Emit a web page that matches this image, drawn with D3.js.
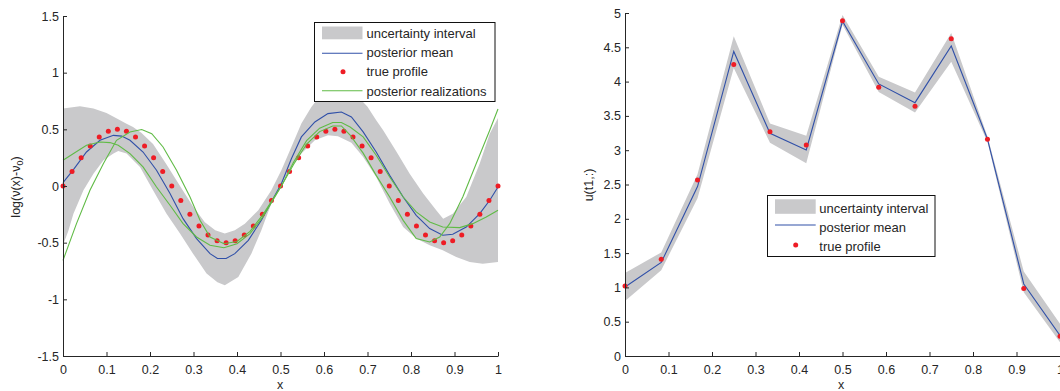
<!DOCTYPE html>
<html><head><meta charset="utf-8">
<script src="https://cdn.jsdelivr.net/npm/d3@7"></script>
<style>
body{margin:0;background:#fff}
svg{display:block}
text{font-family:"Liberation Sans",Arial,sans-serif;fill:#262626}
</style>
</head><body><svg id="c" width="1060" height="391"></svg>
<script>
// ---------- LEFT PANEL DATA ----------
const xTickVals = [0,0.1,0.2,0.3,0.4,0.5,0.6,0.7,0.8,0.9,1];
const xTickLabels = ["0","0.1","0.2","0.3","0.4","0.5","0.6","0.7","0.8","0.9","1"];
const leftYTickVals = [-1.5,-1,-0.5,0,0.5,1,1.5];
const leftYTickLabels = ["-1.5","-1","-0.5","0","0.5","1","1.5"];

const bandUpX = [0,0.039,0.07,0.1,0.127,0.146,0.161,0.18,0.207,0.238,0.269,0.299,0.326,0.35,0.372,0.395,0.418,0.449,0.479,0.502,0.525,0.548,0.571,0.586,0.61,0.635,0.66,0.68,0.70,0.72,0.736,0.767,0.797,0.828,0.858,0.874,0.896,0.927,0.958,0.981,1];
const bandUpY = [0.683,0.703,0.683,0.645,0.59,0.55,0.52,0.47,0.37,0.19,0.0,-0.18,-0.32,-0.39,-0.42,-0.39,-0.332,-0.214,-0.038,0.139,0.344,0.551,0.697,0.771,0.86,0.88,0.84,0.78,0.70,0.58,0.492,0.30,0.109,-0.067,-0.214,-0.288,-0.244,-0.097,0.198,0.462,0.6];
const bandLoX = [0,0.012,0.024,0.047,0.07,0.093,0.116,0.127,0.146,0.177,0.207,0.238,0.269,0.299,0.33,0.355,0.372,0.403,0.433,0.456,0.479,0.502,0.525,0.548,0.579,0.609,0.632,0.663,0.69,0.72,0.751,0.782,0.812,0.843,0.873,0.904,0.935,0.965,1];
const bandLoY = [-0.52,-0.40,-0.244,-0.038,0.109,0.227,0.286,0.309,0.286,0.168,-0.038,-0.244,-0.42,-0.597,-0.773,-0.85,-0.876,-0.803,-0.597,-0.391,-0.155,0.021,0.168,0.286,0.403,0.447,0.439,0.381,0.256,0.079,-0.155,-0.362,-0.464,-0.523,-0.567,-0.627,-0.671,-0.685,-0.671];

const meanX = [0,0.024,0.054,0.085,0.116,0.135,0.154,0.184,0.215,0.246,0.276,0.307,0.338,0.355,0.375,0.395,0.426,0.456,0.479,0.502,0.525,0.548,0.579,0.609,0.640,0.663,0.690,0.720,0.751,0.782,0.812,0.843,0.873,0.896,0.927,0.958,0.981,1.0];
const meanY = [0.03,0.145,0.30,0.403,0.447,0.44,0.403,0.30,0.139,-0.067,-0.288,-0.464,-0.597,-0.64,-0.64,-0.597,-0.479,-0.303,-0.14,0.02,0.24,0.433,0.565,0.639,0.653,0.609,0.477,0.30,0.094,-0.097,-0.259,-0.376,-0.435,-0.426,-0.362,-0.244,-0.126,-0.009];

const trueX = [0,0.0208,0.0417,0.0625,0.0833,0.1042,0.125,0.1458,0.1667,0.1875,0.2083,0.2292,0.25,0.2708,0.2917,0.3125,0.3333,0.3542,0.375,0.3958,0.4167,0.4375,0.4583,0.4792,0.5,0.5208,0.5417,0.5625,0.5833,0.6042,0.625,0.6458,0.6667,0.6875,0.7083,0.7292,0.75,0.7708,0.7917,0.8125,0.8333,0.8542,0.875,0.8958,0.9167,0.9375,0.9583,0.9792,1];
const trueY = [0,0.129,0.25,0.354,0.433,0.483,0.5,0.483,0.433,0.354,0.25,0.129,0,-0.129,-0.25,-0.354,-0.433,-0.483,-0.5,-0.483,-0.433,-0.354,-0.25,-0.129,0,0.129,0.25,0.354,0.433,0.483,0.5,0.483,0.433,0.354,0.25,0.129,0,-0.129,-0.25,-0.354,-0.433,-0.483,-0.5,-0.483,-0.433,-0.354,-0.25,-0.129,0];

const real1X = [0,0.054,0.085,0.108,0.127,0.154,0.184,0.215,0.246,0.276,0.307,0.338,0.37,0.40,0.43,0.46,0.502,0.53,0.56,0.59,0.62,0.64,0.66,0.69,0.72,0.751,0.782,0.812,0.843,0.873,0.912,0.942,0.973,1];
const real1Y = [0.227,0.359,0.388,0.383,0.359,0.286,0.168,-0.009,-0.17,-0.332,-0.45,-0.523,-0.545,-0.51,-0.42,-0.27,0.0,0.21,0.40,0.51,0.56,0.56,0.52,0.433,0.271,0.079,-0.097,-0.229,-0.318,-0.362,-0.367,-0.332,-0.274,-0.214];
const real2X = [0,0.031,0.062,0.093,0.123,0.154,0.181,0.204,0.23,0.261,0.292,0.315,0.338,0.37,0.40,0.43,0.46,0.502,0.53,0.56,0.59,0.62,0.64,0.66,0.69,0.72,0.751,0.782,0.812,0.843,0.866,0.889,0.919,0.95,0.981,1];
const real2Y = [-0.656,-0.332,-0.038,0.198,0.403,0.477,0.498,0.462,0.344,0.139,-0.097,-0.303,-0.45,-0.51,-0.49,-0.40,-0.25,0.0,0.19,0.37,0.48,0.53,0.53,0.45,0.29,0.094,-0.097,-0.303,-0.464,-0.494,-0.45,-0.332,-0.097,0.198,0.492,0.68];

const leftLegendLabels = ["uncertainty interval","posterior mean","true profile","posterior realizations"];

// ---------- RIGHT PANEL DATA ----------
const rightX = [0,0.0833,0.1667,0.25,0.3333,0.4167,0.5,0.5833,0.6667,0.75,0.8333,0.9167,1];
const rightTrue = [1.02,1.41,2.565,4.25,3.27,3.076,4.886,3.918,3.64,4.623,3.158,0.984,0.288];
const rightMean = [1.007,1.363,2.47,4.44,3.246,3.003,4.88,3.966,3.693,4.52,3.16,1.05,0.30];
const rightUpper = [1.21,1.51,2.65,4.66,3.39,3.21,4.97,4.07,3.84,4.71,3.2,1.23,0.47];
const rightLower = [0.80,1.25,2.30,4.2,3.11,2.81,4.83,3.85,3.55,4.29,3.12,0.93,0.2];
const rightYTickVals = [0,0.5,1,1.5,2,2.5,3,3.5,4,4.5,5];
const rightYTickLabels = ["0","0.5","1","1.5","2","2.5","3","3.5","4","4.5","5"];
const rightLegendLabels = ["uncertainty interval","posterior mean","true profile"];

// ---------- STYLE ----------
const GRAY = "#c9c9cb", BLUE = "#3050a8", RED = "#ee1c25", GREEN = "#60bb46", AX = "#262626";

const svg = d3.select("#c");

function drawAxes(g, x, y, yVals, yLabels, xLabelX) {
  const ax = g.append("g").attr("transform", `translate(0,${y.range()[0]})`)
    .call(d3.axisBottom(x).tickValues(xTickVals).tickFormat((d,i)=>xTickLabels[i])
      .tickSizeInner(-4).tickSizeOuter(0).tickPadding(9));
  const ay = g.append("g").attr("transform", `translate(${x.range()[0]},0)`)
    .call(d3.axisLeft(y).tickValues(yVals).tickFormat((d,i)=>yLabels[i])
      .tickSizeInner(-4).tickSizeOuter(0).tickPadding(4));
  [ax, ay].forEach(a => {
    a.selectAll("path.domain").attr("stroke", AX);
    a.selectAll("line").attr("stroke", AX);
    a.selectAll("text").attr("font-size", "12.5px").attr("fill", AX)
      .attr("font-family", '"Liberation Sans",Arial,sans-serif');
  });
  g.append("text").attr("x", xLabelX).attr("y", 389).attr("text-anchor","middle")
    .attr("font-size","12.5px").text("x");
}

// ---------- LEFT PANEL ----------
const xL = d3.scaleLinear().domain([0,1]).range([63,498]);
const yL = d3.scaleLinear().domain([-1.5,1.5]).range([356,16]);
const gL = svg.append("g");

const upPts = bandUpX.map((v,i)=>[xL(v), yL(bandUpY[i])]);
const loPts = bandLoX.map((v,i)=>[xL(v), yL(bandLoY[i])]).reverse();
gL.append("path").attr("d", d3.line()(upPts.concat(loPts)) + "Z").attr("fill", GRAY);

const lineL = d3.line().x(d=>xL(d[0])).y(d=>yL(d[1]));
gL.append("path").attr("d", lineL(meanX.map((v,i)=>[v,meanY[i]])))
  .attr("fill","none").attr("stroke",BLUE).attr("stroke-width",1.1);
gL.selectAll("circle.t").data(trueX.map((v,i)=>[v,trueY[i]])).join("circle")
  .attr("cx",d=>xL(d[0])).attr("cy",d=>yL(d[1])).attr("r",2.5).attr("fill",RED);
[[real1X,real1Y],[real2X,real2Y]].forEach(([xs,ys])=>{
  gL.append("path").attr("d", lineL(xs.map((v,i)=>[v,ys[i]])))
    .attr("fill","none").attr("stroke",GREEN).attr("stroke-width",1.1);
});

drawAxes(gL, xL, yL, leftYTickVals, leftYTickLabels, 280);
gL.append("text").attr("transform","translate(20,187) rotate(-90)").attr("text-anchor","middle")
  .attr("font-size","12.5px")
  .call(t=>{ t.append("tspan").text("log(ν(x)-ν");
             t.append("tspan").attr("font-size","9px").attr("dy",3).text("0");
             t.append("tspan").attr("dy",-3).text(")"); });

// left legend
const lgL = gL.append("g");
lgL.append("rect").attr("x",314.5).attr("y",22.5).attr("width",180.5).attr("height",79)
  .attr("fill","#fff").attr("stroke","#111").attr("stroke-width",1);
const lBase = [38,57.3,76.3,95.6];
leftLegendLabels.forEach((lab,i)=>{
  lgL.append("text").attr("x",366.5).attr("y",lBase[i]).attr("font-size","13px").text(lab);
});
lgL.append("rect").attr("x",322).attr("y",26.5).attr("width",40.5).attr("height",12.8).attr("fill",GRAY);
lgL.append("line").attr("x1",322).attr("x2",362.5).attr("y1",53.3).attr("y2",53.3).attr("stroke",BLUE).attr("stroke-width",1.1);
lgL.append("circle").attr("cx",343).attr("cy",71.8).attr("r",2.5).attr("fill",RED);
lgL.append("line").attr("x1",322).attr("x2",362.5).attr("y1",90.7).attr("y2",90.7).attr("stroke",GREEN).attr("stroke-width",1.1);

// ---------- RIGHT PANEL ----------
const xR = d3.scaleLinear().domain([0,1]).range([625,1060]);
const yR = d3.scaleLinear().domain([0,5]).range([356,13]);
const gR = svg.append("g");
gR.append("path").attr("d", d3.area().x((d,i)=>xR(rightX[i])).y0((d,i)=>yR(rightLower[i])).y1((d,i)=>yR(rightUpper[i]))(rightX))
  .attr("fill",GRAY);
gR.append("path").attr("d", d3.line().x((d,i)=>xR(rightX[i])).y((d,i)=>yR(rightMean[i]))(rightX))
  .attr("fill","none").attr("stroke",BLUE).attr("stroke-width",1.1);
gR.selectAll("circle.t").data(rightX.map((v,i)=>[v,rightTrue[i]])).join("circle")
  .attr("cx",d=>xR(d[0])).attr("cy",d=>yR(d[1])).attr("r",2.5).attr("fill",RED);

drawAxes(gR, xR, yR, rightYTickVals, rightYTickLabels, 841);
gR.append("text").attr("transform","translate(593,185) rotate(-90)").attr("text-anchor","middle")
  .attr("font-size","12.5px").text("u(t1,:)");

// right legend
const lgR = gR.append("g");
lgR.append("rect").attr("x",767.5).attr("y",195.5).attr("width",167.5).attr("height",61)
  .attr("fill","#fff").attr("stroke","#111").attr("stroke-width",1);
const rBase = [212.7,231.8,251];
rightLegendLabels.forEach((lab,i)=>{
  lgR.append("text").attr("x",819.3).attr("y",rBase[i]).attr("font-size","13px").text(lab);
});
lgR.append("rect").attr("x",775).attr("y",199.3).attr("width",40.7).attr("height",14.5).attr("fill",GRAY);
lgR.append("line").attr("x1",775).attr("x2",815.7).attr("y1",225).attr("y2",225).attr("stroke",BLUE).attr("stroke-width",1.1);
lgR.append("circle").attr("cx",795.7).attr("cy",245).attr("r",2.5).attr("fill",RED);
</script></body></html>
